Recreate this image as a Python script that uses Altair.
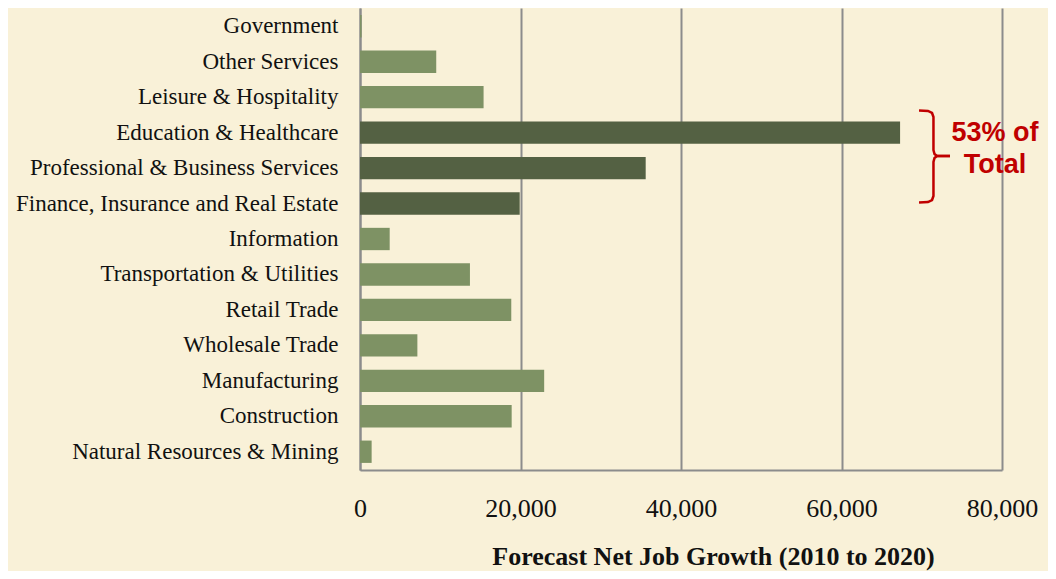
import altair as alt
import pandas as pd

# ---- data ----
sectors = [
    "Government", "Other Services", "Leisure & Hospitality", "Education & Healthcare",
    "Professional & Business Services", "Finance, Insurance and Real Estate", "Information",
    "Transportation & Utilities", "Retail Trade", "Wholesale Trade", "Manufacturing",
    "Construction", "Natural Resources & Mining",
]
job_growth = [200, 9500, 15400, 67300, 35600, 19900, 3700, 13700, 18850, 7150, 22950, 18900, 1450]
highlight = [False, False, False, True, True, True, False, False, False, False, False, False, False]

x_ticks = [0, 20000, 40000, 60000, 80000]

# brace annotation (x in job units, y in plot pixels from top)
brace_upper_x = [69660, 70780, 71280, 71460, 71460, 71590, 71900, 73520]
brace_upper_y = [102.5, 103, 105, 109, 142, 146, 148, 148]
brace_lower_x = [73520, 71900, 71590, 71460, 71460, 71280, 70780, 69660]
brace_lower_y = [148, 148, 150, 154, 188, 192, 194, 194.5]

annot_lines = ["53% of", "Total"]

BG = "#F9F1D8"
SERIF = "Liberation Serif"
W, H = 642, 462

df = pd.DataFrame({"Sector": sectors, "Jobs": job_growth,
                   "Group": ["hi" if h else "lo" for h in highlight]})

x_title = "Forecast Net Job Growth (2010 to 2020)"
x_axis = alt.Axis(values=x_ticks, format=",.0f", grid=True, gridColor="#8C8C8C",
                  gridWidth=2, ticks=False, domainColor="#8C8C8C", domainWidth=2,
                  labelFont=SERIF, labelFontSize=26, labelColor="#111111",
                  labelPadding=25, labelFlush=False,
                  title=x_title,
                  titleFont=SERIF, titleFontSize=26, titleFontWeight="bold",
                  titleColor="#111111", titleX=353, titleY=94,
                  titleAlign="center", titleBaseline="alphabetic")
x_scale = alt.Scale(domain=[0, 80000], nice=False)

bars = alt.Chart(df).mark_bar().encode(
    y=alt.Y("Sector:N", sort=sectors,
            scale=alt.Scale(paddingInner=0.37, paddingOuter=0.2),
            axis=alt.Axis(title=None, ticks=False, labelFont=SERIF, labelFontSize=23,
                          labelColor="#111111", labelPadding=22, domainColor="#8C8C8C",
                          domainWidth=2, labelLimit=400)),
    x=alt.X("Jobs:Q", scale=x_scale, axis=x_axis, title=x_title),
    color=alt.Color("Group:N", scale=alt.Scale(domain=["lo", "hi"],
                                               range=["#7E9264", "#546143"]), legend=None),
)

brace_df = pd.DataFrame({
    "bx": brace_upper_x + brace_lower_x,
    "by": brace_upper_y + brace_lower_y,
    "part": ["u"] * len(brace_upper_x) + ["l"] * len(brace_lower_x),
    "ord": list(range(len(brace_upper_x))) + list(range(len(brace_lower_x))),
})

brace = alt.Chart(brace_df).mark_line(color="#C00000", strokeWidth=2.5,
                                      interpolate="linear", clip=False).encode(
    x=alt.X("bx:Q", title=x_title),
    y=alt.Y("by:Q", scale=alt.Scale(domain=[0, H], reverse=True, nice=False, zero=False),
            axis=None),
    detail="part:N",
    order="ord:Q",
)

text_df = pd.DataFrame({"t": annot_lines, "ty": [133, 165]})
annot = alt.Chart(text_df).mark_text(
    font="Liberation Sans", fontSize=27, fontWeight="bold", color="#C00000",
    align="center", baseline="alphabetic"
).encode(
    text="t:N",
    x=alt.value(635),
    y=alt.Y("ty:Q", scale=alt.Scale(domain=[0, H], reverse=True, nice=False, zero=False),
            axis=None),
)

chart = alt.layer(bars, brace, annot).resolve_scale(y="independent").properties(
    width=W, height=H,
    background=BG,
    autosize=alt.AutoSizeParams(type="none"),
    padding={"left": 352, "top": 0, "right": 46, "bottom": 101},
).configure_view(stroke=None)

chart.save("out.html", embed_options={"renderer": "svg", "actions": False})
